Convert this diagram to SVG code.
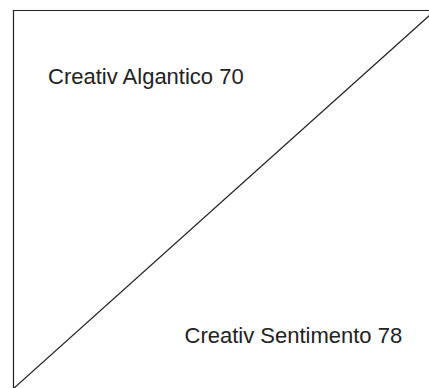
<svg xmlns="http://www.w3.org/2000/svg" width="429" height="388" viewBox="0 0 429 388">
<style>
.ln{fill:none;stroke:#222;stroke-width:1.2}
.lbl{font-family:"Liberation Sans",Arial,Helvetica,sans-serif;font-size:22px;fill:#222}
</style>
<rect width="429" height="388" fill="#fff"/>
<g id="frame">
<path class="ln" d="M13.5,395 V10.5 H440"/>
</g>
<g id="connectors">
<line class="ln" x1="13" y1="389" x2="435.6" y2="10"/>
</g>
<g id="node-algantico">
<text class="lbl" x="48" y="84">Creativ Algantico 70</text>
</g>
<g id="node-sentimento">
<text class="lbl" x="184.5" y="343">Creativ Sentimento 78</text>
</g>
</svg>
